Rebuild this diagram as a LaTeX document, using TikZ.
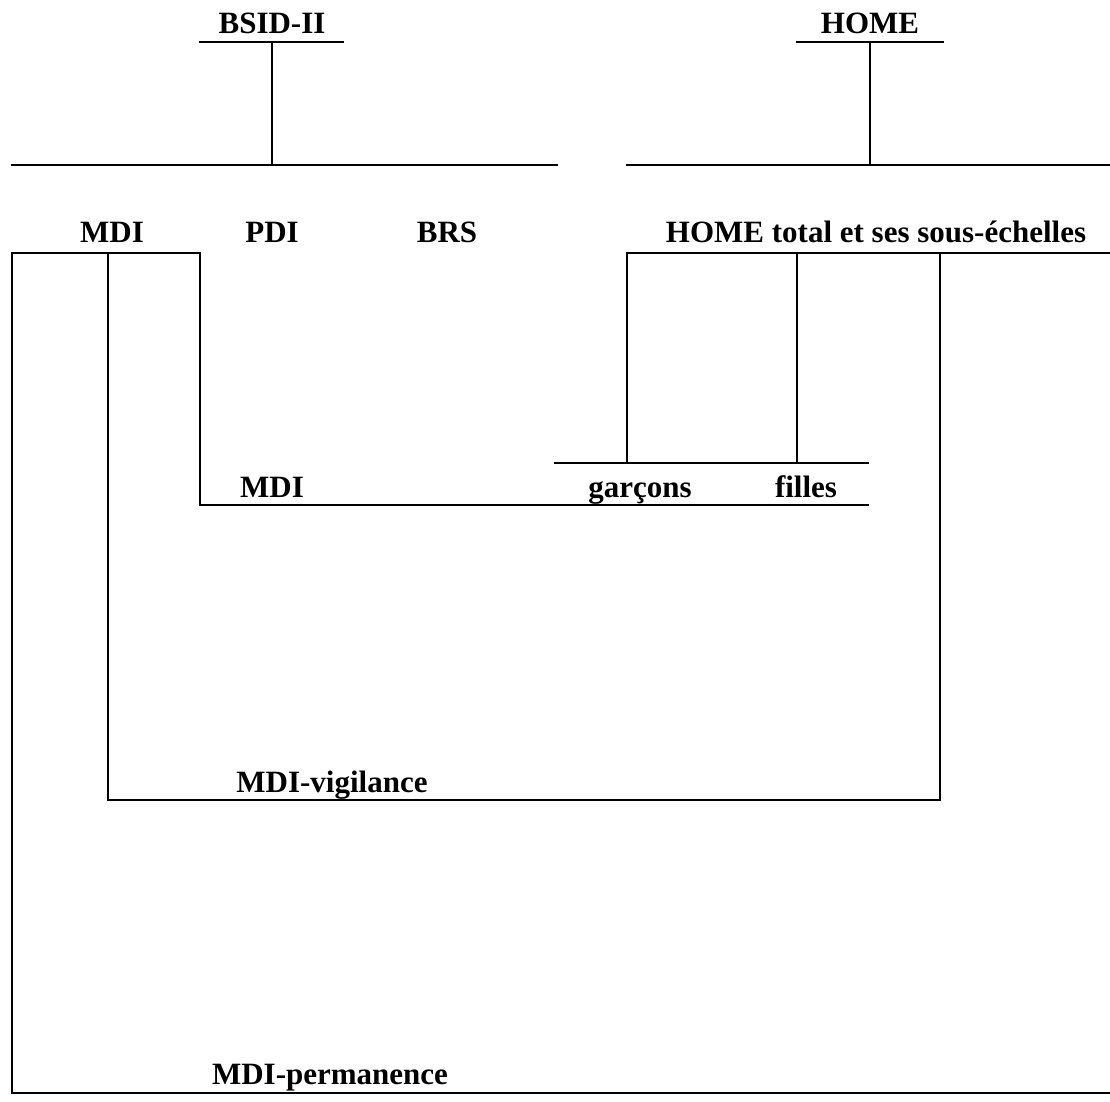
\documentclass[tikz,border=0pt]{standalone}
\usepackage{fontspec}
\setmainfont{Liberation Serif}
\usetikzlibrary{positioning}

\begin{document}
\begin{tikzpicture}[
  x=1pt, y=-1pt,
  every node/.style={font=\fontsize{31}{35}\selectfont\bfseries, inner sep=0pt},
  lbl/.style={anchor=base},
  rule/.style={line width=2pt, line cap=rect}
]
\useasboundingbox (0,0) rectangle (1110,1101);

% ---- Column positions ----
\def\xL{12}      % outer left (permanence)
\def\xV{108}     % vigilance left
\def\xM{200}     % MDI box left
\def\xB{272}     % BSID-II column
\def\xG{627}     % garcons
\def\xF{797}     % filles
\def\xN{868}     % end of MDI / sex lines
\def\xH{940}     % vigilance right
\def\xR{1110}    % right edge

% ---- Row positions ----
\def\yT{42}      % test underline
\def\yS{165}     % scale line
\def\yK{253}     % top of brackets
\def\yC{463}     % garcons / filles line
\def\yD{505}     % MDI bottom
\def\yE{800}     % vigilance bottom
\def\yP{1093}    % permanence bottom

% ---- Tests ----
\node[lbl] (bsid) at (\xB,33) {BSID-II};
\node[lbl] (home) at (870,33) {HOME};

\draw[rule] (200,\yT) -- (343,\yT);
\draw[rule] (\xB,\yT) -- (\xB,\yS);
\draw[rule] (\xL,\yS) -- (557,\yS);

\draw[rule] (797,\yT) -- (943,\yT);
\draw[rule] (870,\yT) -- (870,\yS);
\draw[rule] (\xG,\yS) -- (\xR,\yS);

% ---- Scales ----
\node[lbl] (mdi)  at (112,242) {MDI};
\node[lbl] (pdi)  at (\xB,242) {PDI};
\node[lbl] (brs)  at (447,242) {BRS};
\node[lbl] (htot) at (876,242) {HOME total et ses sous-échelles};

% ---- Brackets below MDI ----
\draw[rule] (\xM,\yK) -- (\xL,\yK) -- (\xL,\yP) -- (\xR,\yP);
\draw[rule] (\xV,\yK) -- (\xV,\yE) -- (\xH,\yE) -- (\xH,\yK);
\draw[rule] (\xM,\yK) -- (\xM,\yD) -- (\xN,\yD);

% ---- Brackets below HOME ----
\draw[rule] (\xG,\yK) -- (\xR,\yK);
\draw[rule] (\xG,\yK) -- (\xG,\yC);
\draw[rule] (\xF,\yK) -- (\xF,\yC);
\draw[rule] (555,\yC) -- (\xN,\yC);

% ---- Period labels ----
\node[lbl] (mdib) at (\xB,497) {MDI};
\node[lbl] (gar)  at (640,497) {garçons};
\node[lbl] (fil)  at (806,497) {filles};
\node[lbl] (vig)  at (332,792) {MDI-vigilance};
\node[lbl] (perm) at (330,1084) {MDI-permanence};

\end{tikzpicture}
\end{document}
